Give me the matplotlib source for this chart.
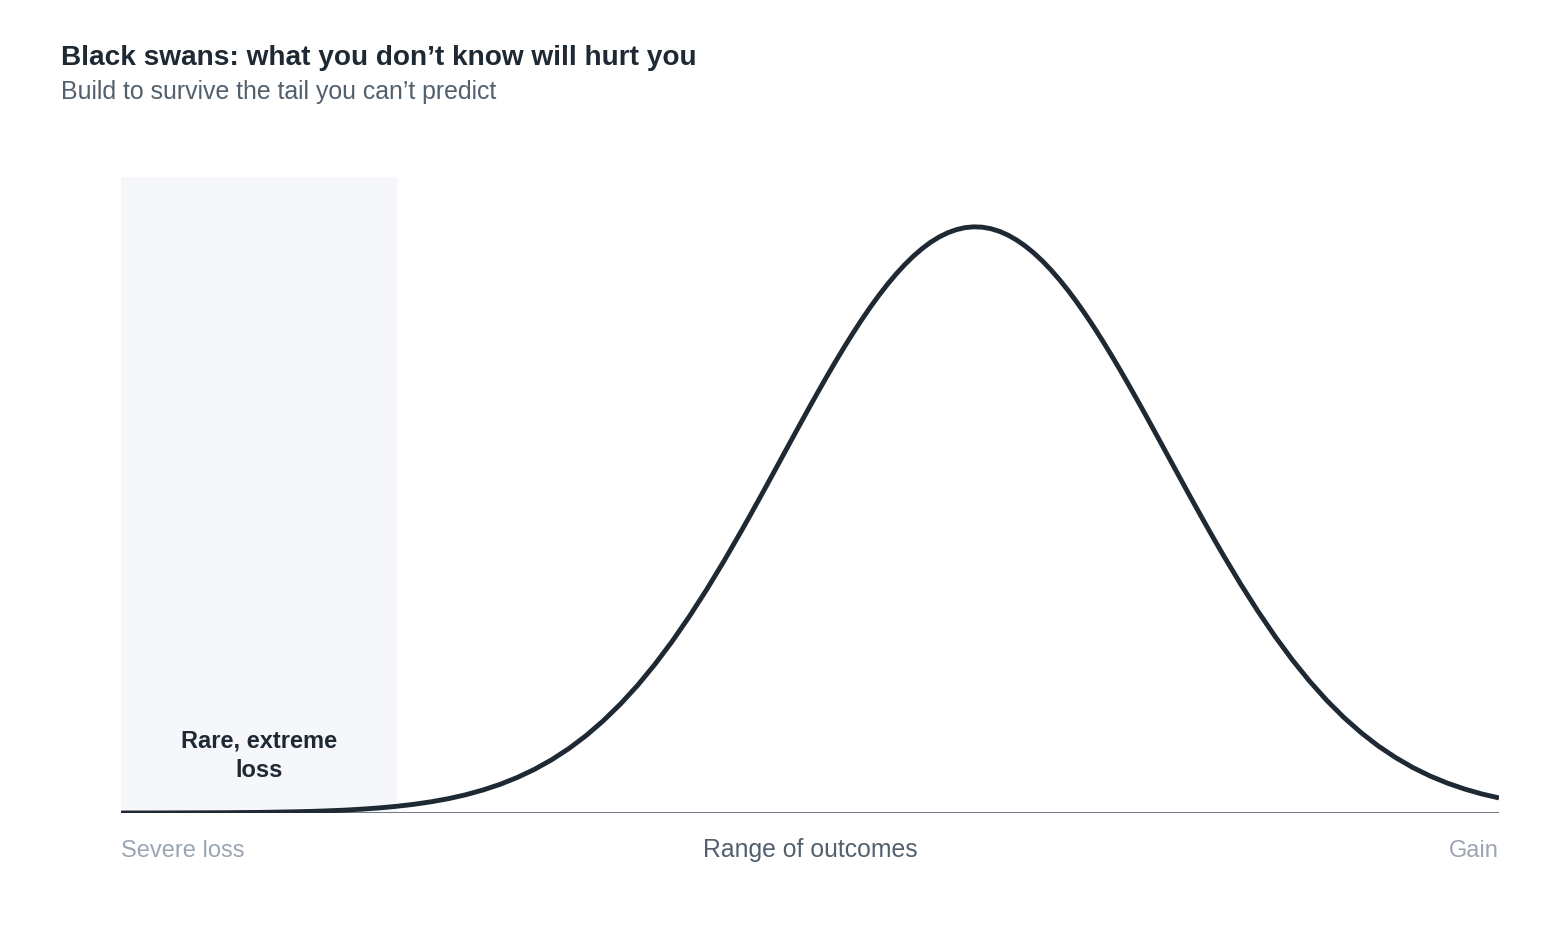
import numpy as np
import matplotlib.pyplot as plt

plt.rcParams['font.family'] = ['Liberation Sans', 'DejaVu Sans']

# Outcome axis runs from severe loss (0) to gain (10);
# sampled more finely around the peak so the curve stays smooth
outcome = np.concatenate([
    np.arange(0, 4.5, 0.125),
    np.arange(4.5, 8.0, 0.0625),
    np.arange(8.0, 10.001, 0.125),
])

# Relative likelihood of each outcome (peak = 100)
likelihood = [
    # 0 .. 4.375
    0.0, 0.01, 0.01, 0.02, 0.03, 0.04, 0.05, 0.08,
    0.10, 0.15, 0.20, 0.27, 0.37, 0.49, 0.66, 0.87,
    1.14, 1.48, 1.91, 2.44, 3.10, 3.91, 4.88, 6.05,
    7.44, 9.08, 10.99, 13.20, 15.74, 18.60, 21.81, 25.38,
    29.29, 33.55, 38.11, 42.96,
    # 4.5 .. 7.9375
    48.04, 50.65, 53.30, 55.97, 58.66, 61.36, 64.06, 66.74,
    69.40, 72.02, 74.59, 77.10, 79.54, 81.89, 84.14, 86.29,
    88.31, 90.20, 91.95, 93.55, 94.99, 96.26, 97.36, 98.27,
    98.99, 99.52, 99.86, 100.00, 99.94, 99.68, 99.23, 98.58,
    97.74, 96.72, 95.52, 94.15, 92.61, 90.92, 89.09, 87.11,
    85.01, 82.80, 80.49, 78.08, 75.60, 73.05, 70.45, 67.81,
    65.13, 62.44, 59.74, 57.05, 54.36, 51.71, 49.08, 46.50,
    # 8.0 .. 10
    43.96, 39.06, 34.44, 30.12, 26.13, 22.50, 19.21, 16.28,
    13.69, 11.41, 9.45, 7.75, 6.31, 5.10, 4.09, 3.25,
    2.57,
]

tail_zone = [0, 2]
tail_label = 'Rare, extreme\nloss'
end_labels = ['Severe loss', 'Gain']
axis_label = 'Range of outcomes'
title = 'Black swans: what you don\u2019t know will hurt you'
subtitle = 'Build to survive the tail you can\u2019t predict'

W, H = 1560, 953
fig = plt.figure(figsize=(W / 100, H / 100), dpi=100)
fig.patch.set_facecolor('white')

ax = fig.add_axes([121 / W, 1 - 814 / H, 1378 / W, 636 / H])
ax.set_xlim(outcome[0], outcome[-1])
ax.set_ylim(0, 108.5)
ax.axis('off')

# shaded tail region
ax.axvspan(tail_zone[0], tail_zone[1], color='#f5f7fa', zorder=0, lw=0)

# baseline
ax.axhline(0, color='#616e7c', lw=2, zorder=1)

# distribution curve
ax.plot(outcome, likelihood, color='#1f2933', lw=3.5, zorder=3,
        solid_capstyle='butt', solid_joinstyle='round')

ax.text(np.mean(tail_zone), 6.3, tail_label, ha='center', va='baseline',
        fontsize=17, fontweight='bold', color='#1f2933', linespacing=1.35)

# end labels and axis label under the baseline
fig.text(121 / W, 1 - 857 / H, end_labels[0], ha='left', va='baseline',
         fontsize=17, color='#9aa5b1')
fig.text(1499 / W, 1 - 857 / H, end_labels[1], ha='right', va='baseline',
         fontsize=17, color='#9aa5b1')
fig.text(810 / W, 1 - 857 / H, axis_label, ha='center', va='baseline',
         fontsize=17.8, color='#52606d')

fig.text(61 / W, 1 - 65 / H, title, ha='left', va='baseline',
         fontsize=20.2, fontweight='bold', color='#1f2933')
fig.text(61 / W, 1 - 99 / H, subtitle, ha='left', va='baseline',
         fontsize=17.9, color='#52606d')

fig.savefig('out.png', dpi=100, facecolor='white')
